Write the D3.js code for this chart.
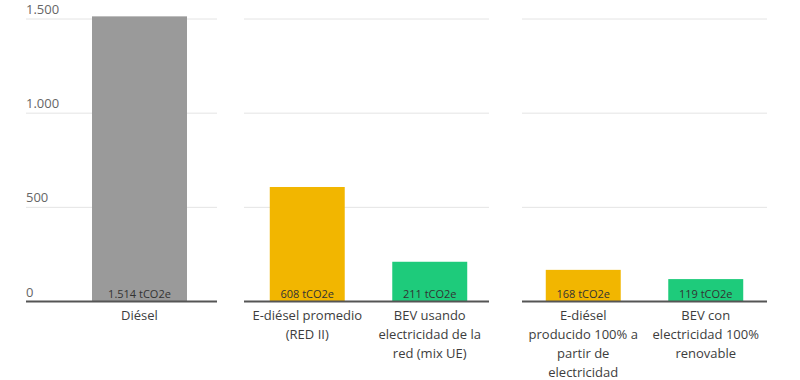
<!DOCTYPE html>
<html>
<head>
<meta charset="utf-8">
<script src="https://cdn.jsdelivr.net/npm/d3@7"></script>
<style>
  body { margin: 0; background: #fff; }
  text { font-family: "Open Sans", sans-serif; }
</style>
</head>
<body>
<div id="chart"></div>
<script>
// data
const categories = [
  "Diésel",
  "E-diésel promedio\n(RED II)",
  "BEV usando\nelectricidad de la\nred (mix UE)",
  "E-diésel\nproducido 100% a\npartir de\nelectricidad",
  "BEV con\nelectricidad 100%\nrenovable"
];
const values = [1514, 608, 211, 168, 119];
const groups = [0, 1, 1, 2, 2];
const colors = ["#9a9a9a", "#f2b600", "#1ecb7b", "#f2b600", "#1ecb7b"];
const yTicks = [0, 500, 1000, 1500];
const tickLabels = ["0", "500", "1.000", "1.500"];
const unit = "tCO2e";

const width = 800, height = 380;
const baseY = 301.5, topY = 19;

// panel extents (grid) and band range for bars
const panels = [
  { grid: [26, 217], band: [62, 217], pi: 0.24, po: 0.24 },
  { grid: [244, 489], band: [246, 491], pi: 0.388, po: 0.194 },
  { grid: [522, 767], band: [522, 767], pi: 0.388, po: 0.194 }
];

const es = d3.formatLocale({ decimal: ",", thousands: ".", grouping: [3], currency: ["", "€"] });
const fmt = es.format(",d");

const svg = d3.select("#chart").append("svg")
  .attr("width", width)
  .attr("height", height);

const y = d3.scaleLinear().domain([0, 1500]).range([baseY, topY]);

panels.forEach((p, gi) => {
  const idx = groups.map((g, i) => g === gi ? i : -1).filter(i => i >= 0);
  const x = d3.scaleBand()
    .domain(idx)
    .range(p.band)
    .paddingInner(p.pi)
    .paddingOuter(p.po);

  const g = svg.append("g");

  // gridlines
  g.selectAll(".grid")
    .data(yTicks.filter(t => t > 0))
    .join("line")
    .attr("x1", p.grid[0])
    .attr("x2", p.grid[1])
    .attr("y1", d => y(d))
    .attr("y2", d => y(d))
    .attr("stroke", "#e4e4e4")
    .attr("stroke-width", 1);

  // y labels only on first panel
  if (gi === 0) {
    g.selectAll(".tick")
      .data(yTicks)
      .join("text")
      .attr("x", p.grid[0])
      .attr("y", d => y(d) - 5)
      .attr("font-size", "13px")
      .attr("fill", "#666")
      .text((d, i) => tickLabels[i]);
  }

  // bars
  g.selectAll(".bar")
    .data(idx)
    .join("rect")
    .attr("x", i => x(i))
    .attr("width", x.bandwidth())
    .attr("y", i => y(values[i]))
    .attr("height", i => y(0) - y(values[i]))
    .attr("fill", i => colors[i]);

  // value labels
  g.selectAll(".val")
    .data(idx)
    .join("text")
    .attr("x", i => x(i) + x.bandwidth() / 2)
    .attr("y", baseY - 4)
    .attr("text-anchor", "middle")
    .attr("font-size", "11px")
    .attr("fill", "#333")
    .text(i => fmt(values[i]) + " " + unit);

  // baseline
  g.append("line")
    .attr("x1", p.grid[0])
    .attr("x2", p.grid[1])
    .attr("y1", baseY)
    .attr("y2", baseY)
    .attr("stroke", "#555")
    .attr("stroke-width", 2);

  // category labels
  idx.forEach(i => {
    const t = g.append("text")
      .attr("x", x(i) + x.bandwidth() / 2)
      .attr("y", 320)
      .attr("text-anchor", "middle")
      .attr("font-size", "13px")
      .attr("fill", "#3d3d3d");
    categories[i].split("\n").forEach((line, k) => {
      t.append("tspan")
        .attr("x", x(i) + x.bandwidth() / 2)
        .attr("dy", k === 0 ? 0 : 19)
        .text(line);
    });
  });
});
</script>
</body>
</html>
